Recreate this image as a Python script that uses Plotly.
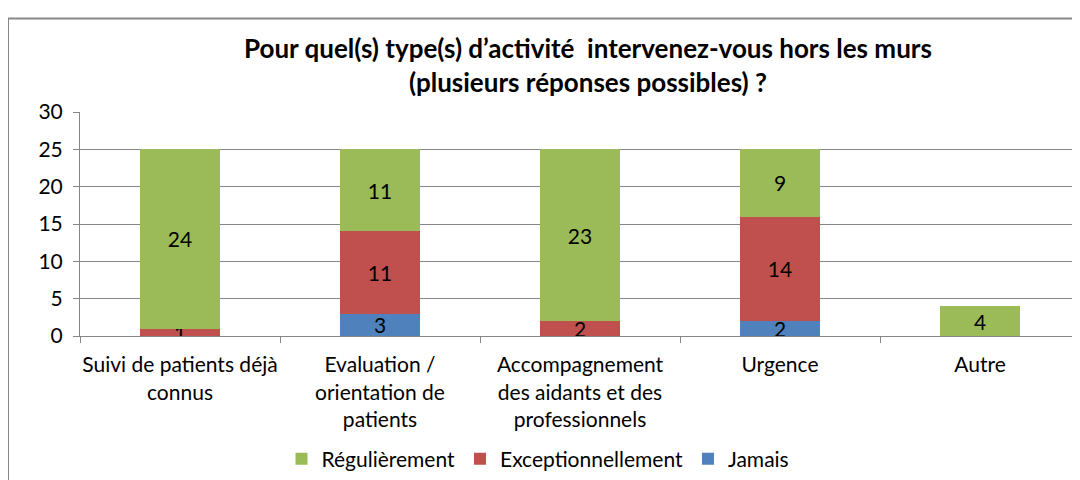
import plotly.graph_objects as go

categories = ["Suivi de patients déjà<br>connus", "Evaluation /<br>orientation de<br>patients",
              "Accompagnement<br>des aidants et des<br>professionnels", "Urgence", "Autre"]
jamais = [0, 3, 0, 2, 0]
exceptionnellement = [1, 11, 2, 14, 0]
regulierement = [24, 11, 23, 9, 4]

series = [
    ("Jamais", jamais, "#4F81BD"),
    ("Exceptionnellement", exceptionnellement, "#C0504D"),
    ("Régulièrement", regulierement, "#9BBB59"),
]

fig = go.Figure()
for name, vals, col in series:
    fig.add_trace(go.Bar(
        x=categories, y=vals, name=name,
        marker=dict(color=col, line=dict(width=0)),
        text=[str(v) if v else "" for v in vals],
        textposition="inside", insidetextanchor="middle", textangle=0,
        textfont=dict(color="black", size=21),
        constraintext="none",
    ))

font = "Lato"
fig.update_layout(
    barmode="stack", bargap=0.6,
    width=1080, height=480,
    margin=dict(l=72, r=8, t=104, b=146),
    paper_bgcolor="white", plot_bgcolor="white",
    font=dict(family=font, size=21, color="black"),
    uniformtext=dict(minsize=21, mode="show"),
    title=dict(text="<b>Pour quel(s) type(s) d’activité  intervenez-vous hors les murs<br>(plusieurs réponses possibles) ?</b>",
               x=0.537, xanchor="center", y=0.896, yanchor="middle",
               font=dict(family=font, size=26, color="black")),
    legend=dict(orientation="h", traceorder="reversed", x=0.458, xanchor="center",
                y=-0.55, yanchor="middle", font=dict(size=21)),
    showlegend=True,
)
fig.update_yaxes(range=[0, 30], dtick=5, showgrid=True, gridcolor="#868686", gridwidth=1,
                 showline=True, linecolor="#868686", ticks="outside", ticklen=6,
                 tickcolor="#868686", zeroline=False, automargin=False, ticklabelstandoff=6)
fig.update_xaxes(showline=True, linecolor="#868686", ticks="outside", tickson="boundaries",
                 ticklen=6, tickcolor="#868686", tickangle=0, automargin=False,
                 ticklabelstandoff=10)
fig.add_shape(type="rect", xref="paper", yref="paper", x0=-0.072, x1=1.01, y0=-0.7, y1=1.417,
              line=dict(color="#888888", width=2), fillcolor="rgba(0,0,0,0)")

fig.write_html("out.html")
